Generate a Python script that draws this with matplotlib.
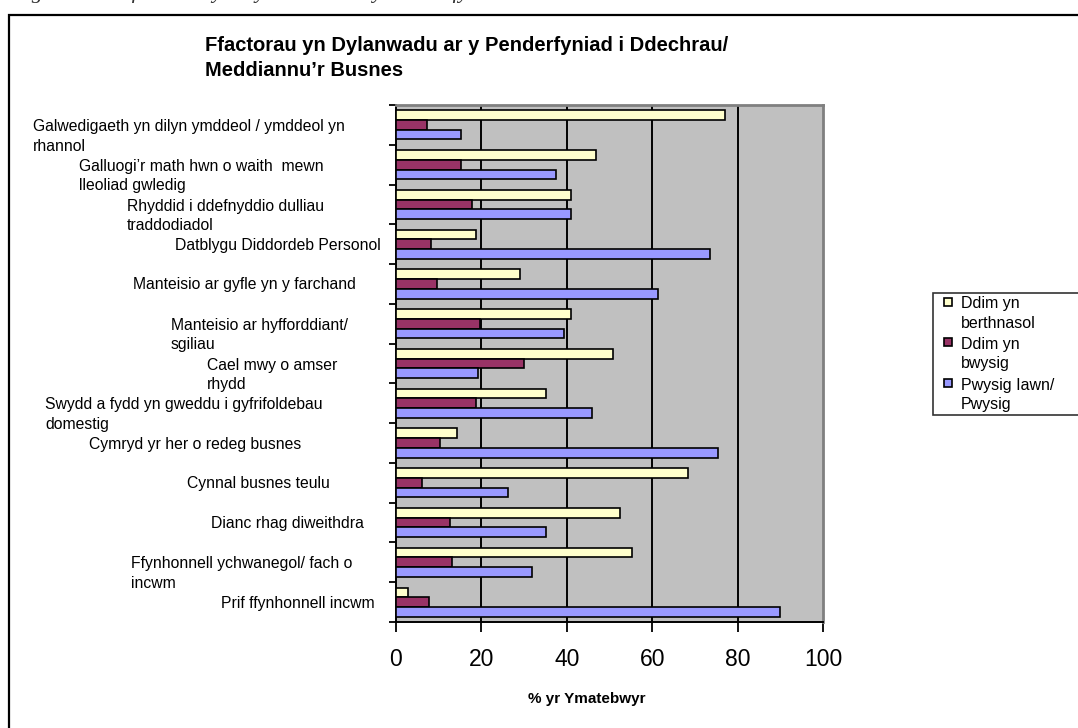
import matplotlib
matplotlib.use("Agg")
import matplotlib.pyplot as plt
import matplotlib.transforms as mtransforms
from matplotlib.lines import Line2D
from matplotlib.patches import Rectangle
import numpy as np

plt.rcParams['font.family'] = ['Liberation Sans', 'DejaVu Sans']

# ---------------- data (top to bottom) ----------------
categories = [
    "Galwedigaeth yn dilyn ymddeol / ymddeol yn\nrhannol",
    "Galluogi\u2019r math hwn o waith  mewn\nlleoliad gwledig",
    "Rhyddid i ddefnyddio dulliau\ntraddodiadol",
    "Datblygu Diddordeb Personol",
    "Manteisio ar gyfle yn y farchand",
    "Manteisio ar hyfforddiant/\nsgiliau",
    "Cael mwy o amser\nrhydd",
    "Swydd a fydd yn gweddu i gyfrifoldebau\ndomestig",
    "Cymryd yr her o redeg busnes",
    "Cynnal busnes teulu",
    "Dianc rhag diweithdra",
    "Ffynhonnell ychwanegol/ fach o\nincwm",
    "Prif ffynhonnell incwm",
]
ddim_berthnasol = [77.0, 46.8, 41.1, 18.7, 29.0, 41.1, 50.9, 35.1, 14.4, 68.4, 52.4, 55.2, 2.7]
ddim_pwysig     = [7.3, 15.2, 17.7, 8.3, 9.7, 19.6, 29.9, 18.7, 10.2, 6.0, 12.6, 13.0, 7.8]
pwysig          = [15.2, 37.5, 41.1, 73.5, 61.3, 39.3, 19.1, 45.9, 75.4, 26.2, 35.1, 31.8, 89.9]
series_names = ["Ddim yn\nberthnasol", "Ddim yn\nbwysig", "Pwysig Iawn/\nPwysig"]
x_ticks = [0, 20, 40, 60, 80, 100]

title = "Ffactorau yn Dylanwadu ar y Penderfyniad i Ddechrau/\nMeddiannu\u2019r Busnes"
x_label = "% yr Ymatebwyr"
caption = "Figure 4.1: Ffactorau yn Dylanwadu ar y Penderfyniad i Ddechrau/Meddiannu\u2019r Busnes"

# ---------------- style / layout ----------------
colors = ["#FFFFCC", "#993366", "#9999FF"]
label_left_px = [33, 79, 127, 175, 133, 171, 207, 45, 89, 187, 211, 131, 221]
W, H = 1078, 728

fig = plt.figure(figsize=(W / 100, H / 100), dpi=100)
fig.patch.set_facecolor("white")

ax = fig.add_axes([396 / W, 106 / H, (823 - 396) / W, (622 - 105) / H])
ax.set_facecolor("#C0C0C0")

n = len(categories)
y = np.arange(n)
bh = 0.245
for i, (vals, c) in enumerate(zip([ddim_berthnasol, ddim_pwysig, pwysig], colors)):
    ax.barh(y + (i - 1) * bh, vals, height=bh, color=c, edgecolor="black",
            linewidth=1.2, zorder=3)

ax.set_xlim(0, 100)
ax.set_ylim(n - 0.5, -0.5)

for v in x_ticks[1:-1]:
    ax.axvline(v, color="black", lw=1.4, zorder=2)

ax.set_xticks(x_ticks)
ax.set_xticklabels([str(t) for t in x_ticks], fontsize=16.5)
ax.tick_params(axis="x", direction="out", length=7, width=1.3, pad=12, color="black")
ax.set_yticks(np.arange(n + 1) - 0.5)
ax.set_yticklabels([])
ax.tick_params(axis="y", direction="out", length=5, width=1.3, color="black")

for s in ["left", "bottom"]:
    ax.spines[s].set_color("black")
    ax.spines[s].set_linewidth(1.4)
for s in ["top", "right"]:
    ax.spines[s].set_color("#808080")
    ax.spines[s].set_linewidth(2.0)

ax.set_xlabel(x_label, fontsize=11, fontweight="bold", va="center")
ax.xaxis.set_label_coords(0.447, (29 - 106) / 517)

# category labels: first line centred on its category
lab_fs = 11.3
lab_ls = 1.38
line_px = 0.93 * lab_fs * 100 / 72 * lab_ls
base = mtransforms.blended_transform_factory(fig.transFigure, ax.transData)
for i, lab in enumerate(categories):
    extra = lab.count("\n")
    tr = mtransforms.offset_copy(base, fig=fig, y=-5.5 - extra * line_px, units="dots")
    ax.text(label_left_px[i] / W, i, lab, transform=tr, ha="left", va="baseline",
            fontsize=lab_fs, linespacing=lab_ls, multialignment="left", clip_on=False)

# title
fig.text(205 / W, 1 - 36 / H, title, ha="left", va="top", fontsize=14.5,
         fontweight="bold", linespacing=1.4)

# legend
handles = [Line2D([], [], linestyle="none", marker="s", markersize=5.8,
                  markerfacecolor=c, markeredgecolor="black", markeredgewidth=1.2)
           for c in colors]
leg = fig.legend(handles, series_names, loc="upper left",
                 bbox_to_anchor=(933 / W, 1 - 293 / H, 200 / W, 0), mode="expand",
                 fontsize=11.5, frameon=True, fancybox=False, borderpad=0.2,
                 handlelength=1.5, handleheight=0.7, handletextpad=0.05,
                 labelspacing=0.4, borderaxespad=0)
leg.get_frame().set_edgecolor("black")
leg.get_frame().set_linewidth(1.2)
for t in leg.get_texts():
    t.set_linespacing(1.36)
for col in leg._legend_handle_box.get_children():
    for item in col.get_children():
        item.align = "top"

# outer chart frame (extends beyond right/bottom edges)
fig.patches.append(Rectangle((9 / W, -0.2), 1.3, 1.2 - 15 / H, transform=fig.transFigure,
                             fill=False, edgecolor="black", linewidth=1.6, clip_on=False))

# document caption, cut off at the very top as in the source
fig.text(12 / W, 1 + 2 / H, caption, ha="left", va="baseline", fontsize=16,
         style="italic", family=["Liberation Serif", "DejaVu Serif"], color="#333333")

fig.savefig("out.png", dpi=100)
